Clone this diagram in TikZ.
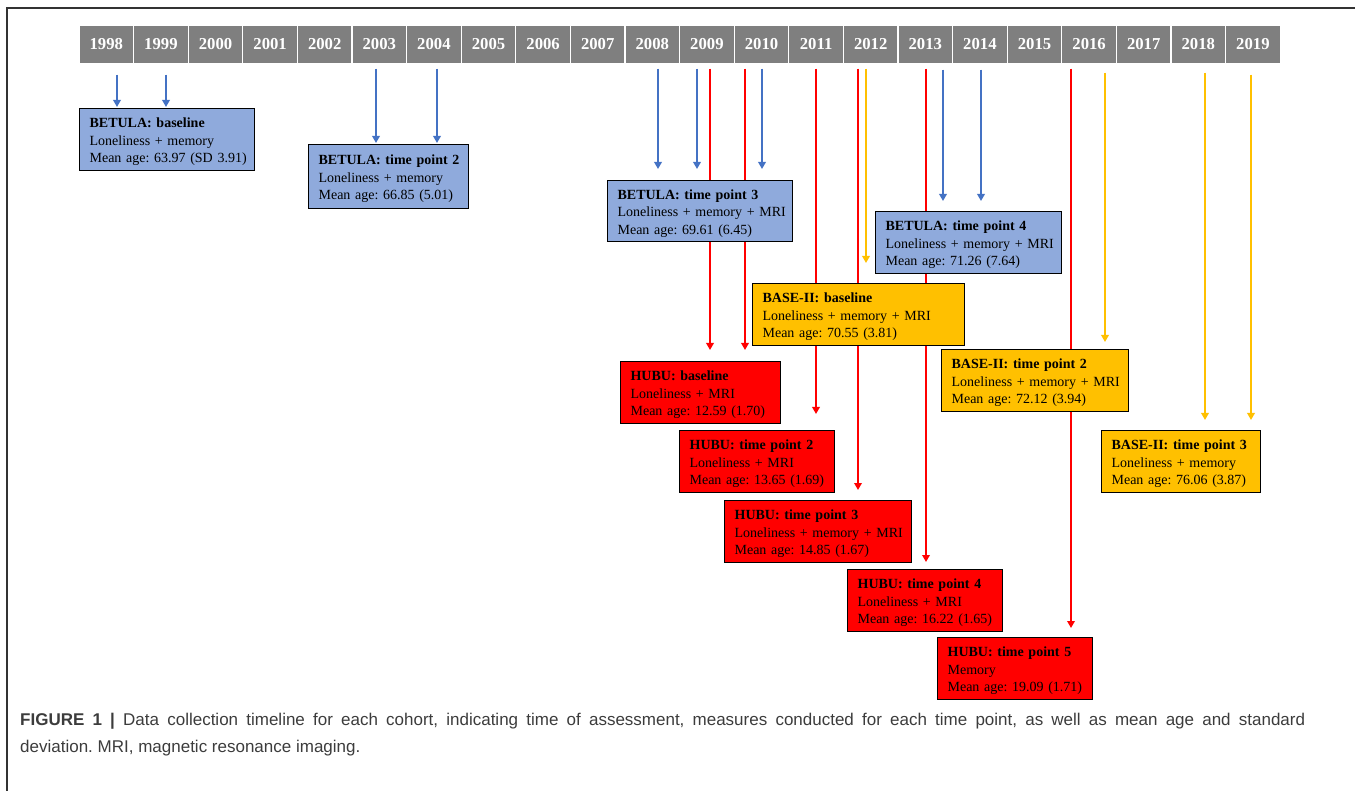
\documentclass[tikz,border=0pt]{standalone}
\usepackage{fontspec}
\setmainfont{Liberation Serif}
\newfontfamily\capfont{Liberation Sans}
\usetikzlibrary{arrows.meta}
\pgfdeclarelayer{bg}
\pgfsetlayers{bg,main}
\definecolor{cellgray}{HTML}{7F7F7F}
\definecolor{bfill}{HTML}{8FAADC}
\definecolor{bline}{HTML}{4472C4}
\definecolor{yfill}{HTML}{FFC000}
\definecolor{rfill}{HTML}{FF0000}
\definecolor{captxt}{HTML}{3C3C3C}
\definecolor{framec}{HTML}{333333}
\newcommand\conn[6]{\draw[#1, shorten <=#4pt, shorten >=#6pt] (#2.south -| #3,0) -- (#5.north -| #3,0);}
\newcommand\cardtext[3]{\mbox{\rule{0pt}{14.5pt}\textbf{#1}}\\\mbox{#2}\\\mbox{#3}}
\frenchspacing
\begin{document}
\begin{tikzpicture}[x=1pt,y=-1pt,
 yearcell/.style={fill=cellgray, draw=white, line width=1.2pt, minimum width=54.6pt, minimum height=39pt, inner sep=0pt, text=white, font=\fontsize{16.7}{16.7}\selectfont\bfseries},
 card/.style={draw=black, line width=1.2pt, anchor=north west, align=left, inner xsep=10pt, inner ysep=2pt, font=\fontsize{14}{17.5}\selectfont\frenchspacing},
 betula/.style={card, fill=bfill},
 base/.style={card, fill=yfill},
 hubu/.style={card, fill=rfill},
 barr/.style={draw=bline, line width=2.2pt, -{Triangle[width=7.5pt,length=7pt]}},
 rarr/.style={draw=rfill, line width=2.4pt, -{Triangle[width=7.5pt,length=7pt]}},
 yarr/.style={draw=yfill, line width=2.2pt, -{Triangle[width=7.5pt,length=7pt]}},
]
\useasboundingbox (0,0) rectangle (1355,791);
\draw[framec, line width=1.5pt] (1355,8) -- (7,8) -- (7,791);

\foreach \yr [count=\i from 0] in {1998,1999,2000,2001,2002,2003,2004,2005,2006,2007,2008,2009,2010,2011,2012,2013,2014,2015,2016,2017,2018,2019}
  \node[yearcell] (y\yr) at ({79+54.6*(\i+0.5)},44.5) {\yr};

% BETULA
\node[betula, text width=155pt, minimum height=62pt] (bl) at (79,108) {\cardtext{BETULA: baseline}{Loneliness + memory}{Mean age: 63.97 (SD 3.91)}};
\node[betula, text width=140pt, minimum height=64pt] (b2) at (308,144) {\cardtext{BETULA: time point 2}{Loneliness + memory}{Mean age: 66.85 (5.01)}};
\node[betula, text width=165pt, minimum height=61pt] (b3) at (607,180) {\cardtext{BETULA: time point 3}{Loneliness + memory + MRI}{Mean age: 69.61 (6.45)}};
\node[betula, text width=166pt, minimum height=62pt] (b4) at (875,211) {\cardtext{BETULA: time point 4}{Loneliness + memory + MRI}{Mean age: 71.26 (7.64)}};
% BASE-II
\node[base, text width=192pt, minimum height=62pt] (s1) at (752,283) {\cardtext{BASE-II: baseline}{Loneliness + memory + MRI}{Mean age: 70.55 (3.81)}};
\node[base, text width=167pt, minimum height=62pt] (s2) at (941,349) {\cardtext{BASE-II: time point 2}{Loneliness + memory + MRI}{Mean age: 72.12 (3.94)}};
\node[base, text width=139pt, minimum height=62pt] (s3) at (1101,430) {\cardtext{BASE-II: time point 3}{Loneliness + memory}{Mean age: 76.06 (3.87)}};
% HUBU
\node[hubu, text width=140pt, minimum height=62pt] (h1) at (620,361) {\cardtext{HUBU: baseline}{Loneliness + MRI}{Mean age: 12.59 (1.70)}};
\node[hubu, text width=135pt, minimum height=62pt] (h2) at (679,430) {\cardtext{HUBU: time point 2}{Loneliness + MRI}{Mean age: 13.65 (1.69)}};
\node[hubu, text width=167pt, minimum height=62pt] (h3) at (724,500) {\cardtext{HUBU: time point 3}{Loneliness + memory + MRI}{Mean age: 14.85 (1.67)}};
\node[hubu, text width=135pt, minimum height=62pt] (h4) at (847,569) {\cardtext{HUBU: time point 4}{Loneliness + MRI}{Mean age: 16.22 (1.65)}};
\node[hubu, text width=135pt, minimum height=62pt] (h5) at (937,637) {\cardtext{HUBU: time point 5}{Memory}{Mean age: 19.09 (1.71)}};

\begin{pgfonlayer}{bg}
\conn{barr}{y1998}{117}{10}{bl}{1}
\conn{barr}{y1999}{166}{10}{bl}{1}
\conn{barr}{y2003}{376}{4}{b2}{1}
\conn{barr}{y2004}{437}{4}{b2}{1}
\conn{barr}{y2008}{658}{4}{b3}{11}
\conn{barr}{y2009}{697}{4}{b3}{11}
\conn{barr}{y2010}{762}{4}{b3}{11}
\conn{barr}{y2013}{943}{5}{b4}{10}
\conn{barr}{y2014}{981}{5}{b4}{10}
\conn{rarr}{y2009}{710}{4}{h1}{11}
\conn{rarr}{y2010}{745}{4}{h1}{11}
\conn{rarr}{y2011}{816}{4}{h2}{16}
\conn{rarr}{y2012}{858}{4}{h3}{10}
\conn{rarr}{y2013}{926}{4}{h4}{7}
\conn{rarr}{y2016}{1071}{4}{h5}{9}
\conn{yarr}{y2012}{866}{4}{s1}{20}
\conn{yarr}{y2016}{1105}{8}{s2}{7}
\conn{yarr}{y2018}{1205}{8}{s3}{10}
\conn{yarr}{y2019}{1251}{10}{s3}{10}
\end{pgfonlayer}

\node[anchor=north west, font=\capfont\fontsize{17}{27}\selectfont, text=captxt, align=left, inner sep=0pt] (cap) at (20,713) {\makebox[1285pt][s]{\textbf{FIGURE 1 |} Data collection timeline for each cohort, indicating time of assessment, measures conducted for each time point, as well as mean age and standard}\\deviation. MRI, magnetic resonance imaging.};
\end{tikzpicture}
\end{document}
